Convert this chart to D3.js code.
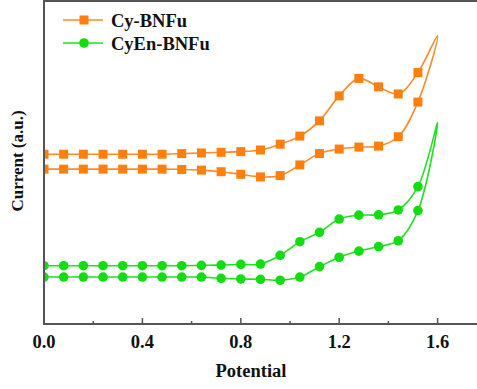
<!DOCTYPE html>
<html>
<head>
<meta charset="utf-8">
<script src="https://cdn.jsdelivr.net/npm/d3@7"></script>
<style>
  body { margin: 0; background: #fff; }
  svg { display: block; }
  text { font-family: "Liberation Serif", "Times New Roman", serif; font-weight: bold; fill: #111; }
</style>
</head>
<body>
<div id="root"></div>
<script>
"use strict";

// potential (V) where the markers sit, scan goes 0 -> 1.6 -> 0
var potential = [0, 0.08, 0.16, 0.24, 0.32, 0.4, 0.48, 0.56, 0.64, 0.72, 0.8,
                 0.88, 0.96, 1.04, 1.12, 1.2, 1.28, 1.36, 1.44, 1.52];
var vertex = 1.6;

var cy_forward = [5.24, 5.24, 5.24, 5.24, 5.24, 5.24, 5.24, 5.26, 5.28, 5.30, 5.32,
                  5.37, 5.55, 5.80, 6.27, 7.04, 7.58, 7.32, 7.10, 7.76];
var cy_reverse = [4.78, 4.78, 4.78, 4.78, 4.78, 4.78, 4.78, 4.77, 4.75, 4.70, 4.62,
                  4.54, 4.58, 4.91, 5.26, 5.40, 5.46, 5.49, 5.78, 6.85];
var cy_vertex = 8.9;

var cyen_forward = [1.80, 1.80, 1.80, 1.80, 1.80, 1.80, 1.80, 1.80, 1.81, 1.82, 1.84,
                    1.85, 2.12, 2.54, 2.83, 3.24, 3.36, 3.37, 3.52, 4.24];
var cyen_reverse = [1.45, 1.45, 1.45, 1.45, 1.45, 1.45, 1.45, 1.45, 1.45, 1.41, 1.39,
                    1.38, 1.35, 1.45, 1.77, 2.06, 2.25, 2.39, 2.57, 3.50];
var cyen_vertex = 6.22;

var series_names = ['Cy-BNFu', 'CyEn-BNFu'];
var x_ticks = [0, 0.4, 0.8, 1.2, 1.6];
var x_minor = [0.2, 0.6, 1.0, 1.4];

(function() {

    var width = 477;
    var height = 389;

    var plot_left = 44, plot_top = 1, plot_bottom = 324;

    var x = d3.scaleLinear().domain([0, 1.8]).range([plot_left, plot_left + 1.8 * 246]);
    var y = d3.scaleLinear().domain([0, 10]).range([plot_bottom, plot_bottom - 324]);

    var svg = d3.select('#root').append('svg')
        .attr('width', width)
        .attr('height', height);

    svg.append('defs').append('clipPath').attr('id', 'plot-clip')
        .append('rect')
        .attr('x', plot_left).attr('y', plot_top)
        .attr('width', x.range()[1] - plot_left).attr('height', plot_bottom - plot_top);

    function scan( fwd, rev, top_value ) {
        var pts = potential.map(function( p, i ) { return { x: p, y: fwd[i], mark: true }; });
        pts.push({ x: vertex, y: top_value, mark: false });
        for ( var i = potential.length - 1; i >= 0; i-- ) {
            pts.push({ x: potential[i], y: rev[i], mark: true });
        }
        return pts;
    }

    var series = [
        { name: series_names[0], color: '#ff7f0e', line: '#ff8a2a', shape: 'square', pts: scan( cy_forward, cy_reverse, cy_vertex ) },
        { name: series_names[1], color: '#11dd11', line: '#22e022', shape: 'circle', pts: scan( cyen_forward, cyen_reverse, cyen_vertex ) }
    ];

    var line = d3.line()
        .x(function( d ) { return x( d.x ); })
        .y(function( d ) { return y( d.y ); })
        .curve( d3.curveCatmullRom.alpha( 0.5 ) );

    var plot = svg.append('g').attr('clip-path', 'url(#plot-clip)');

    function draw_marker( g, shape, color, cx, cy ) {
        if ( shape === 'square' ) {
            g.append('rect')
                .attr('x', cx - 4.5).attr('y', cy - 4.5)
                .attr('width', 9).attr('height', 9)
                .attr('fill', color);
        } else {
            g.append('circle')
                .attr('cx', cx).attr('cy', cy).attr('r', 4.8)
                .attr('fill', color);
        }
    }

    series.forEach(function( s ) {
        plot.append('path')
            .datum( s.pts )
            .attr('d', line)
            .attr('fill', 'none')
            .attr('stroke', s.line)
            .attr('stroke-width', 1.6)
            .attr('stroke-linejoin', 'round');

        var mg = plot.append('g');
        s.pts.filter(function( d ) { return d.mark; }).forEach(function( d ) {
            draw_marker( mg, s.shape, s.color, x( d.x ), y( d.y ) );
        });
    });

    // frame (right side runs off the picture)
    var axis_color = '#555';
    svg.append('path')
        .attr('d', 'M' + x.range()[1] + ',' + plot_top + 'H' + plot_left + 'V' + plot_bottom + 'H' + x.range()[1])
        .attr('fill', 'none')
        .attr('stroke', axis_color)
        .attr('stroke-width', 2);

    // ticks point inward
    var xa = svg.append('g');
    xa.selectAll('line.major').data( x_ticks ).enter().append('line')
        .attr('class', 'major')
        .attr('x1', function( d ) { return x( d ); }).attr('x2', function( d ) { return x( d ); })
        .attr('y1', plot_bottom).attr('y2', plot_bottom - 6)
        .attr('stroke', axis_color).attr('stroke-width', 1.5);
    xa.selectAll('line.minor').data( x_minor ).enter().append('line')
        .attr('class', 'minor')
        .attr('x1', function( d ) { return x( d ); }).attr('x2', function( d ) { return x( d ); })
        .attr('y1', plot_bottom).attr('y2', plot_bottom - 3)
        .attr('stroke', axis_color).attr('stroke-width', 1.5);
    xa.selectAll('text').data( x_ticks ).enter().append('text')
        .attr('x', function( d ) { return x( d ); })
        .attr('y', 348)
        .attr('text-anchor', 'middle')
        .attr('font-size', 18.5)
        .text(function( d ) { return d3.format('.1f')( d ); });

    svg.append('text')
        .attr('x', 251).attr('y', 377)
        .attr('text-anchor', 'middle')
        .attr('font-size', 18.5)
        .text('Potential');

    svg.append('text')
        .attr('transform', 'translate(23,161) rotate(-90)')
        .attr('text-anchor', 'middle')
        .attr('font-size', 17)
        .text('Current (a.u.)');

    // legend
    var legend = svg.append('g');
    series.forEach(function( s, i ) {
        var ly = 20 + i * 23;
        legend.append('line')
            .attr('x1', 63).attr('x2', 103)
            .attr('y1', ly).attr('y2', ly)
            .attr('stroke', s.line).attr('stroke-width', 1.6);
        draw_marker( legend, s.shape, s.color, 84, ly );
        legend.append('text')
            .attr('x', 111).attr('y', ly + 6.5)
            .attr('font-size', 18.5)
            .text( s.name );
    });

})();
</script>
</body>
</html>
